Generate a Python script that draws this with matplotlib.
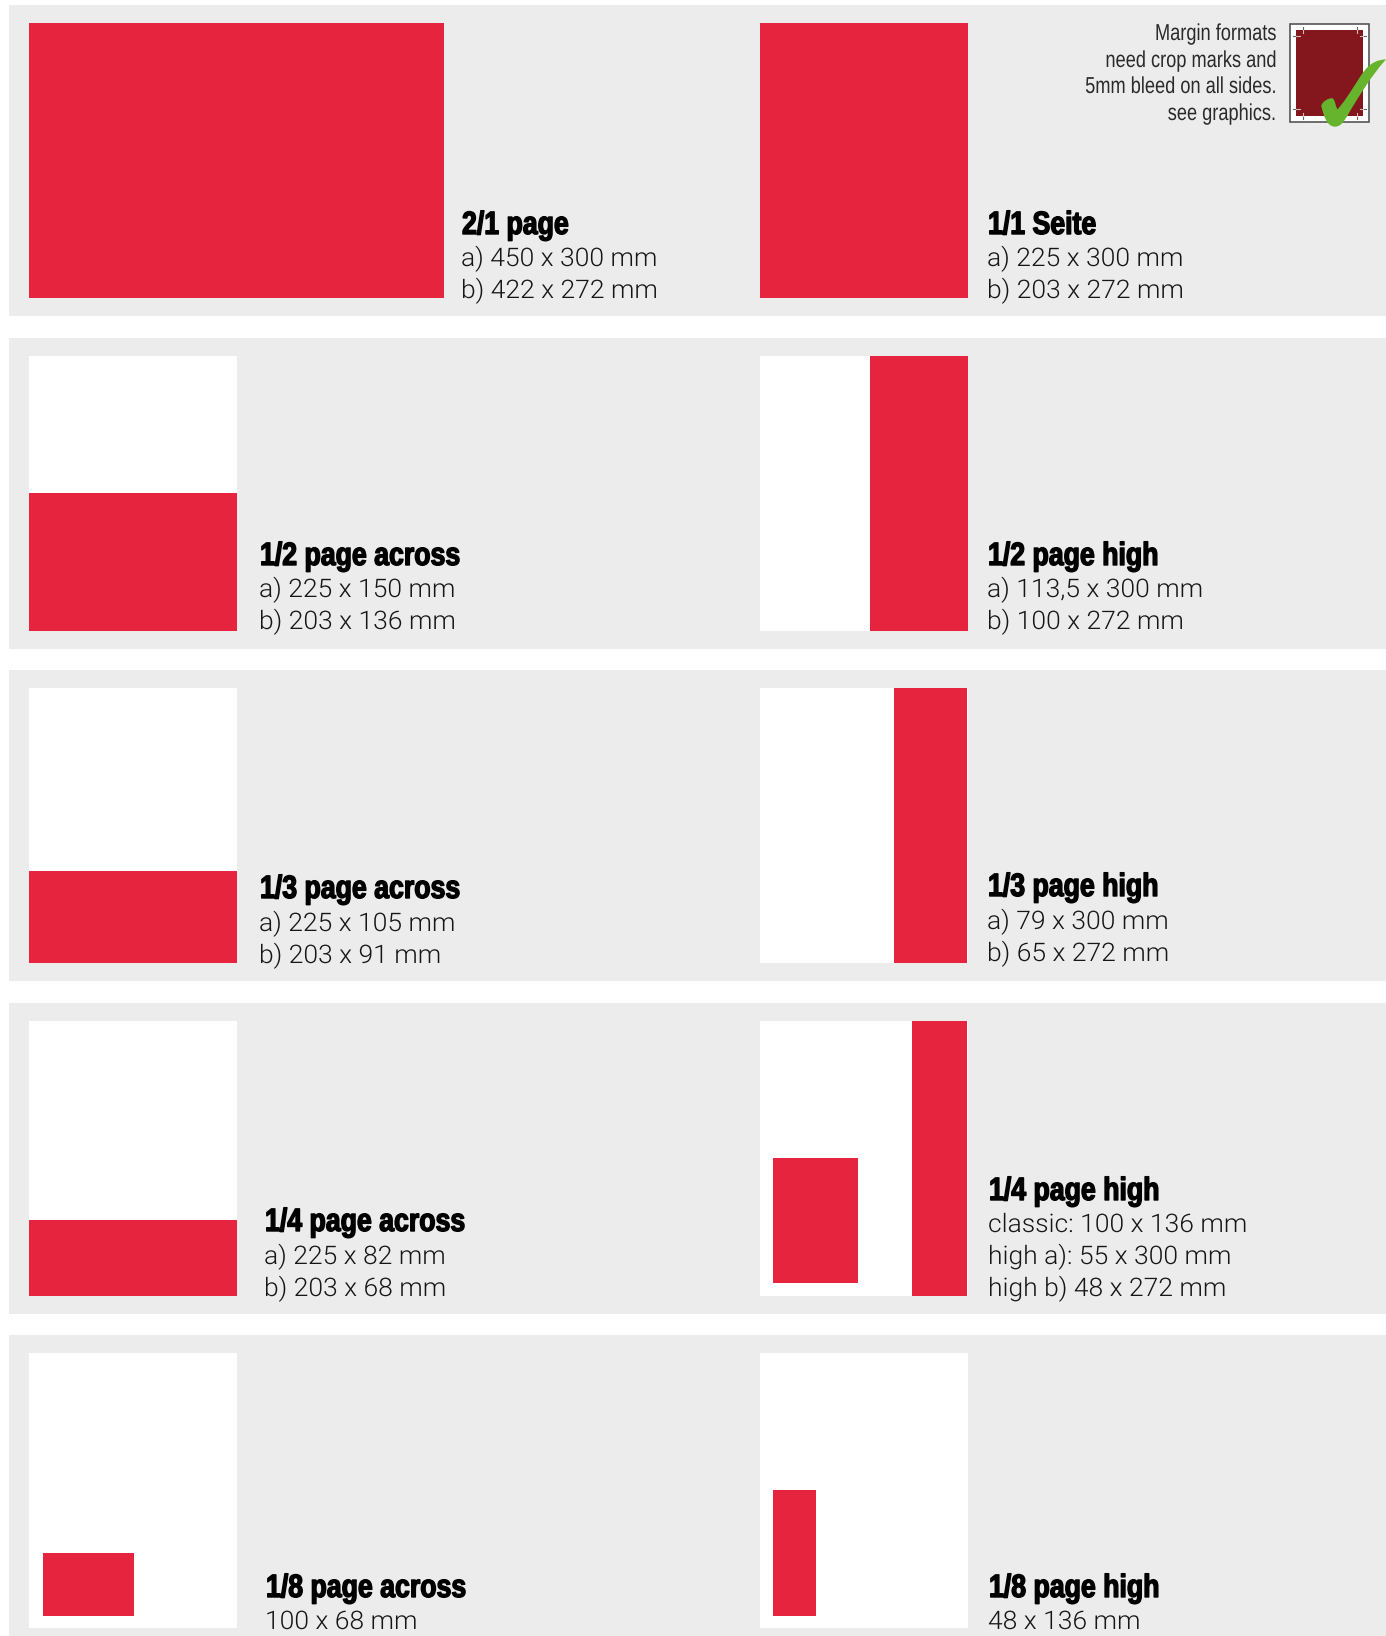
import matplotlib
matplotlib.use("Agg")
import matplotlib.pyplot as plt
import matplotlib.patheffects as pe
from matplotlib.patches import Rectangle, PathPatch
from matplotlib.path import Path
from matplotlib.transforms import Affine2D

plt.rcParams["text.kerning_factor"] = 6

# ---- data: ad formats, labels and drawn sizes in mm ----
titles = ["2/1 page", "1/1 Seite", "1/2 page across", "1/2 page high", "1/3 page across",
          "1/3 page high", "1/4 page across", "1/4 page high", "1/8 page across", "1/8 page high"]
lines = [["a) 450 x 300 mm", "b) 422 x 272 mm"],
         ["a) 225 x 300 mm", "b) 203 x 272 mm"],
         ["a) 225 x 150 mm", "b) 203 x 136 mm"],
         ["a) 113,5 x 300 mm", "b) 100 x 272 mm"],
         ["a) 225 x 105 mm", "b) 203 x 91 mm"],
         ["a) 79 x 300 mm", "b) 65 x 272 mm"],
         ["a) 225 x 82 mm", "b) 203 x 68 mm"],
         ["classic: 100 x 136 mm", "high a): 55 x 300 mm", "high b) 48 x 272 mm"],
         ["100 x 68 mm"],
         ["48 x 136 mm"]]
sheet_w = [450, 225, 225, 225, 225, 225, 225, 225, 225, 225]
sheet_h = [300] * 10
# drawn ad block per format (mm)
ad_w = [450, 225, 225, 106, 225, 80, 225, 60, 98.5, 46.5]
ad_h = [300, 300, 151, 300, 100, 300, 83, 300, 68, 137]
extra_w = [92]   # classic 1/4 page
extra_h = [137]
note_lines = ["Margin formats", "need crop marks and", "5mm bleed on all sides.", "see graphics."]

RED, GREY, DARK, GREEN = "#E7243E", "#ECECEC", "#83171D", "#66B32E"
W, H = 1386, 1636


class Stretch(pe.AbstractPathEffect):
    """Draw real text narrower or wider, optionally emboldened."""
    def __init__(self, sx, right=False, stroke=0):
        super().__init__()
        self.sx, self.right, self.stroke = sx, right, stroke

    def draw_path(self, renderer, gc, tpath, affine, rgbFace=None):
        a = Affine2D().scale(self.sx, 1)
        if self.right:
            a = a.translate((1 - self.sx) * tpath.get_extents().x1, 0)
        a = a + affine
        gc0 = renderer.new_gc()
        gc0.copy_properties(gc)
        if self.stroke:
            gc0.set_linewidth(self.stroke)
            gc0.set_foreground(rgbFace)
        renderer.draw_path(gc0, tpath, a, rgbFace)
        gc0.restore()


BODY = dict(family=["Roboto", "DejaVu Sans"], weight=300, color="#161616", fontsize=18.4,
            path_effects=[Stretch(1.035)])
HEAD = dict(family=["Liberation Sans", "DejaVu Sans"], weight="bold", color="black", fontsize=23.2,
            path_effects=[Stretch(0.828, stroke=1.0)])
NOTE = dict(family=["Liberation Sans", "DejaVu Sans"], color="#2A2A2A", fontsize=16.6, ha="right",
            path_effects=[Stretch(0.79, right=True)])

fig = plt.figure(figsize=(W / 100, H / 100), dpi=100, facecolor="white")
bg = fig.add_axes([0, 0, 1, 1])
bg.set_xlim(0, W); bg.set_ylim(H, 0); bg.axis("off")

panel_top = [5, 338, 670, 1003, 1335]
panel_bot = [316, 649, 981, 1314, 1636]
for t, b in zip(panel_top, panel_bot):
    bg.add_patch(Rectangle((9, t), W - 9, b - t, fc=GREY, ec="none"))


def sheet_axes(x, top, w, sw, sh):
    ax = fig.add_axes([x / W, 1 - (top + 275) / H, w / W, 275 / H])
    ax.set_xlim(0, sw); ax.set_ylim(0, sh); ax.axis("off")
    ax.bar(0, sh, width=sw, align="edge", color="white", linewidth=0)
    return ax


# layout per format: text anchors
text_x = [462, 988, 260, 988, 260, 988, 265, 989, 266, 989]
head_y = [234, 234, 565, 565, 898, 896, 1231, 1200, 1597, 1597]
first_y = [266, 266, 597, 597, 931, 929, 1264, 1232, 1629, 1629]
line_gap = 32

for i in range(10):
    row, col = i // 2, i % 2
    top = panel_top[row] + 18
    ax = sheet_axes(29 if col == 0 else 760.4, top, 415 if i == 0 else 208, sheet_w[i], sheet_h[i])
    if i == 8:
        left, bottom = 15.5, 13.5
    elif i == 9:
        left, bottom = 13.7, 13.5
    elif col == 1 and i > 1:
        left, bottom = sheet_w[i] - ad_w[i] - (1 if i in (5, 7) else 0), 0
    else:
        left, bottom = 0, 0
    ax.bar(left, ad_h[i], width=ad_w[i], bottom=bottom, align="edge", color=RED, linewidth=0)
    if i == 7:
        ax.bar(13.7, extra_h[0], width=extra_w[0], bottom=14, align="edge", color=RED, linewidth=0)
    bg.text(text_x[i], head_y[i], titles[i], va="baseline", ha="left", **HEAD)
    for k, s in enumerate(lines[i]):
        bg.text(text_x[i] - 1, first_y[i] + k * line_gap, s, va="baseline", ha="left", **BODY)

for y, s in zip([40, 67, 93, 120], note_lines):
    bg.text(1276, y, s, va="baseline", **NOTE)

# icon: sheet with bleed, crop marks and tick
bg.add_patch(Rectangle((1290, 24), 79, 98, fc="white", ec="#555555", lw=1.2, zorder=3))
bg.add_patch(Rectangle((1296, 30), 67, 86, fc=DARK, ec="none", zorder=3.1))
OUT, INN = "#666666", "#D8B8B8"
for yy in (36, 109):
    bg.plot([1293, 1296], [yy, yy], color=OUT, lw=0.8, zorder=3.2)
    bg.plot([1296, 1300], [yy, yy], color=INN, lw=0.8, zorder=3.2)
    bg.plot([1363, 1366], [yy, yy], color=OUT, lw=0.8, zorder=3.2)
    bg.plot([1360, 1363], [yy, yy], color=INN, lw=0.8, zorder=3.2)
for xx in (1302.7, 1357):
    bg.plot([xx, xx], [27, 30], color=OUT, lw=0.8, zorder=3.2)
    bg.plot([xx, xx], [30, 33], color=INN, lw=0.8, zorder=3.2)
    bg.plot([xx, xx], [116, 119], color=OUT, lw=0.8, zorder=3.2)
    bg.plot([xx, xx], [113, 116], color=INN, lw=0.8, zorder=3.2)


def P(X, Y):
    return (1280 + X / 3, 10 + Y / 3)


verts = [P(318, 148),
         P(268, 150), P(250, 185), P(228, 220),
         P(205, 255), P(190, 280), P(172, 298),
         P(166, 285), P(165, 270), P(158, 265),
         P(148, 262), P(125, 275), P(124, 288),
         P(130, 315), P(140, 350), P(165, 350),
         P(188, 350), P(200, 320), P(212, 300),
         P(240, 255), P(268, 205), P(318, 148)]
codes = [Path.MOVETO] + [Path.CURVE4] * 21
bg.add_patch(PathPatch(Path(verts, codes), fc=GREEN, ec="none", zorder=3.5, clip_on=False))

fig.savefig("out.png", dpi=100, facecolor="white")
